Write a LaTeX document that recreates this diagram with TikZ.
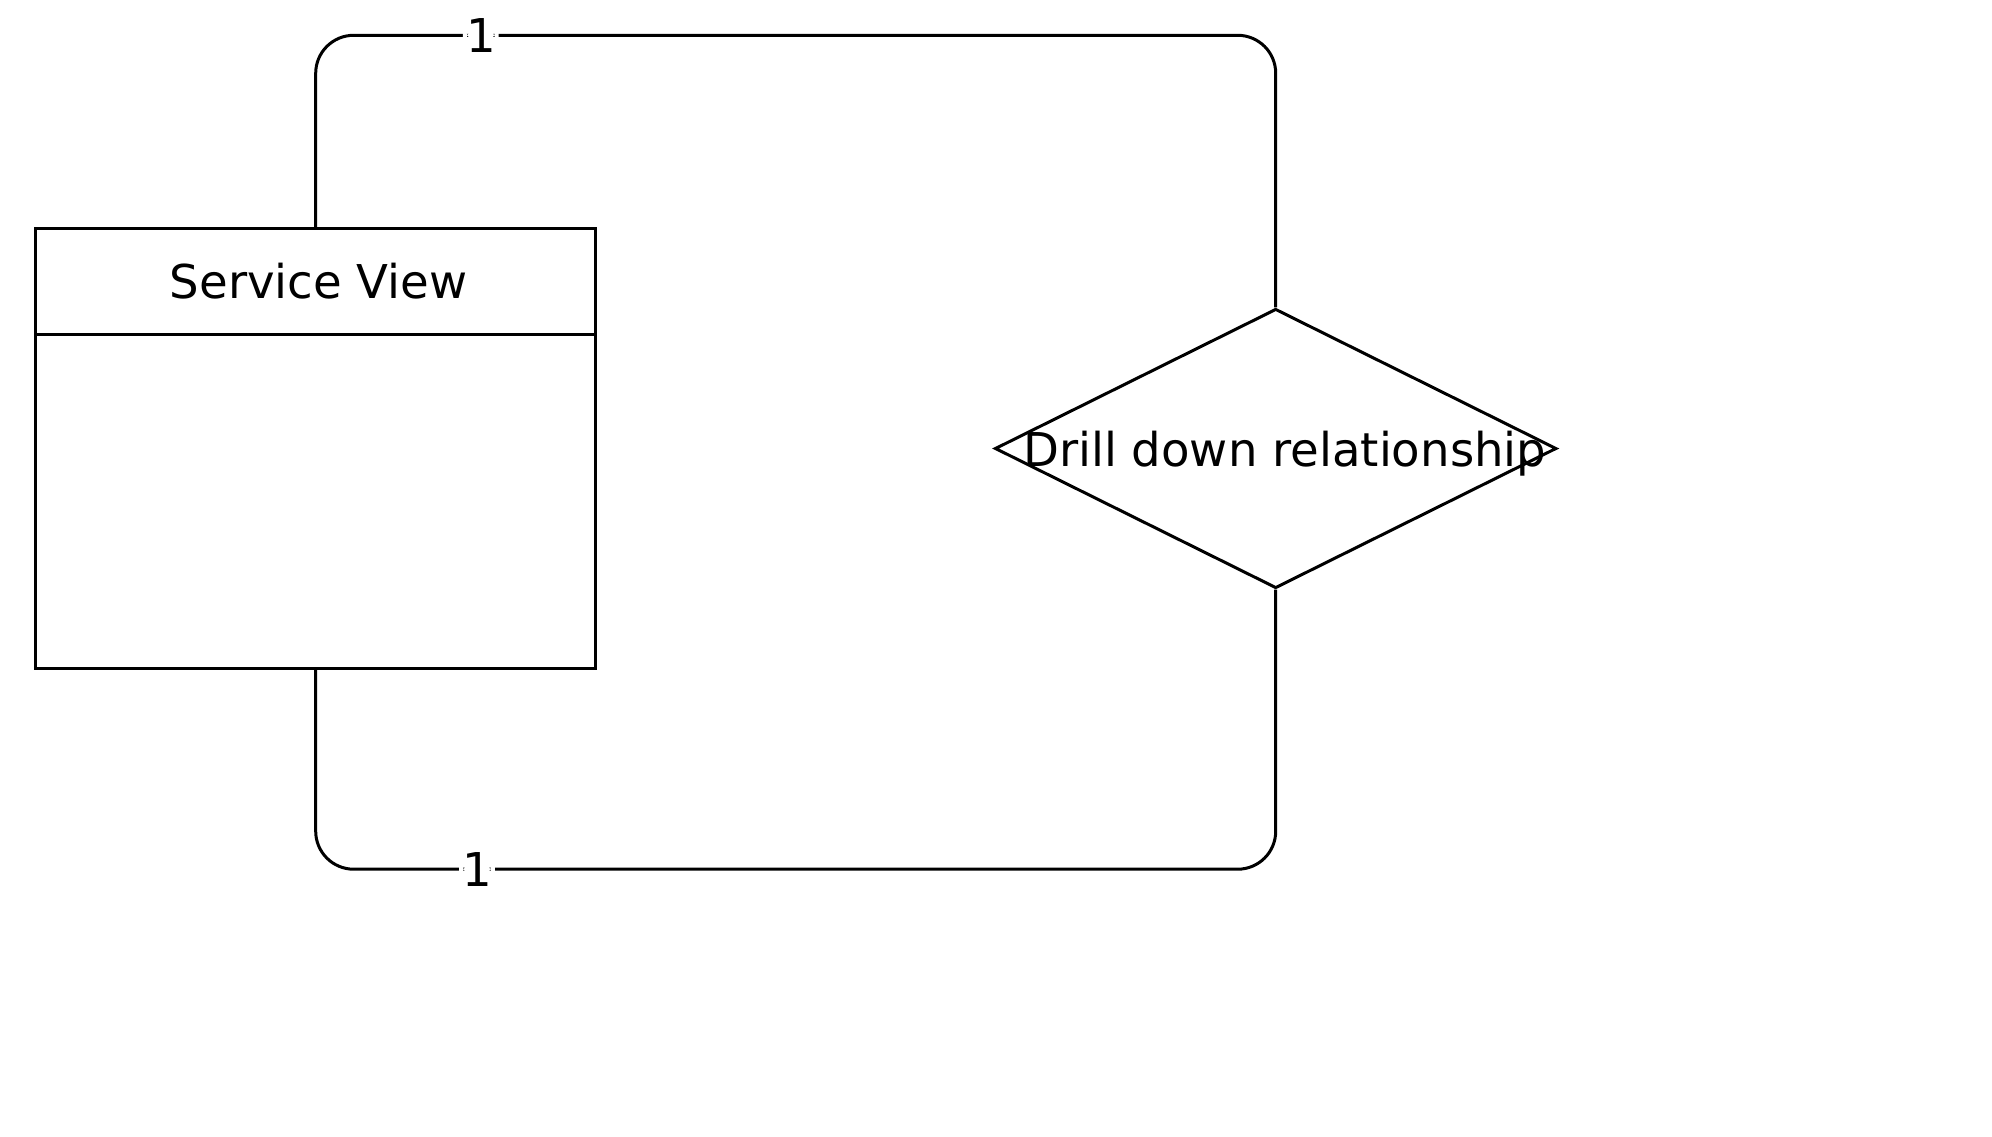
\documentclass[tikz,border=0pt]{standalone}
\usepackage{fontspec}
\setmainfont{DejaVu Sans}
\usetikzlibrary{arrows,positioning,shapes.geometric}

\begin{document}
\begin{tikzpicture}[line width=1.5bp, font=\fontsize{23.3bp}{28bp}\selectfont,
  entity/.style={draw, rectangle, minimum width=280.1bp, minimum height=219.7bp, inner sep=0pt},
  header/.style={minimum height=52bp, inner sep=0pt},
  relation/.style={draw, diamond, minimum width=280.8bp, minimum height=139.7bp, inner sep=0pt},
  card/.style={fill=white, inner sep=1.5bp},
  link/.style={rounded corners=19bp}]
\useasboundingbox (0,0) rectangle (996bp,-568.5bp);
\node (view) [entity] at (157.85bp,-224.25bp) {};
\node (title) [header, below, xshift=1.5bp] at (view.north) {Service View};
\node (rel) [relation, right of = view, node distance=480bp, label={[xshift=4.5bp, yshift=-2.5bp]center:{Drill down relationship}}] {};

\draw (view.west |- title.south) -- (view.east |- title.south);
\draw[link] (view.north) -- ++(0,96bp) -| (rel.north) node[card, pos=0.086] {1};
\draw[link] (view.south) -- ++(0,-99.75bp) -| (rel.south) node[card, pos=0.084] {1};
\end{tikzpicture}
\end{document}
